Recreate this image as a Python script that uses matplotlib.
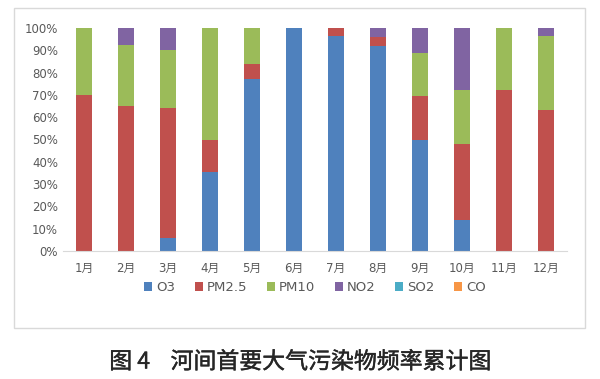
import numpy as np
import matplotlib.pyplot as plt
import matplotlib.patheffects as pe
from matplotlib.patches import Rectangle

plt.rcParams['font.family'] = ['DejaVu Sans', 'Noto Sans CJK SC']

months = ['1月', '2月', '3月', '4月', '5月', '6月', '7月', '8月', '9月', '10月', '11月', '12月']
o3 = [0, 0, 6.0, 35.5, 77.2, 100, 96.5, 92.0, 50.0, 13.8, 0, 0]
pm25 = [70.0, 65.0, 58.3, 14.5, 6.6, 0, 3.5, 4.0, 19.4, 34.2, 72.4, 63.3]
pm10 = [30.0, 27.5, 26.0, 50.0, 16.2, 0, 0, 0, 19.4, 24.4, 27.6, 33.2]
no2 = [0, 7.5, 9.7, 0, 0, 0, 0, 4.0, 11.2, 27.6, 0, 3.5]
so2 = [0] * 12
co = [0] * 12

series = [('O3', o3, '#4F81BD'), ('PM2.5', pm25, '#C0504D'), ('PM10', pm10, '#9BBB59'),
          ('NO2', no2, '#8064A2'), ('SO2', so2, '#4BACC6'), ('CO', co, '#F79646')]

fig = plt.figure(figsize=(6, 3.79), dpi=100)
fig.patches.append(Rectangle((14 / 600, 1 - 328 / 379), 571 / 600, 320 / 379,
                             transform=fig.transFigure, fill=False, edgecolor='#d9d9d9', lw=1))
ax = fig.add_axes([0.105, 1 - 251 / 379, 0.84, 223 / 379])

x = np.arange(len(months))
bottom = np.zeros(len(months))
for name, vals, col in series:
    vals = np.array(vals, dtype=float)
    ax.bar(x, vals, 0.4, bottom=bottom, color=col, label=name)
    bottom += vals

ax.set_xlim(-0.5, len(months) - 0.5)
ax.set_ylim(0, 100)
ax.set_yticks(range(0, 101, 10))
ax.set_yticklabels([f'{v}%' for v in range(0, 101, 10)])
ax.set_xticks(x)
ax.set_xticklabels(months)
ax.tick_params(length=0, labelsize=8.5, colors='#595959')
ax.tick_params(axis='x', pad=8)
for s in ['top', 'right', 'left']:
    ax.spines[s].set_visible(False)
ax.spines['bottom'].set_color('#d9d9d9')

ax.legend(loc='center', bbox_to_anchor=(0.5, -0.165), ncol=6, frameon=False,
          fontsize=9.5, handlelength=0.6, handleheight=0.6, handletextpad=0.3,
          columnspacing=1.5, labelcolor='#595959')

# caption is a bit heavier than regular, so thicken it with a thin stroke
fig.text(0.5, 1 - 362 / 379, '图 4    河间首要大气污染物频率累计图', ha='center', va='center',
         fontsize=16.5, family=['Noto Sans CJK SC'], color='#262626',
         path_effects=[pe.withStroke(linewidth=0.3, foreground='#262626')])

fig.savefig('out.png', dpi=100)
